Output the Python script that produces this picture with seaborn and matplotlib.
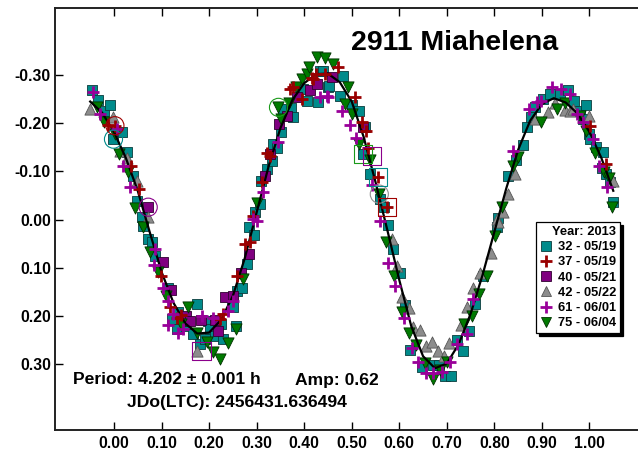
import matplotlib
matplotlib.use("Agg")
import matplotlib.pyplot as plt
from matplotlib.lines import Line2D
import seaborn as sns
import pandas as pd

plt.rcParams['font.family'] = ['Liberation Sans', 'DejaVu Sans']
plt.rcParams['font.weight'] = 'bold'

# ---------------- data ----------------
fit_phase = [-0.050, -0.025, 0.000, 0.025, 0.050, 0.075, 0.100, 0.125, 0.150, 0.175,
             0.200, 0.225, 0.250, 0.275, 0.300, 0.325, 0.350, 0.375, 0.400, 0.425,
             0.450, 0.475, 0.500, 0.525, 0.550, 0.575, 0.600, 0.625, 0.650, 0.675,
             0.700, 0.725, 0.750, 0.775, 0.800, 0.825, 0.850, 0.875, 0.900, 0.925,
             0.950, 0.975, 1.000, 1.025, 1.050]
fit_mag = [-0.245, -0.222, -0.182, -0.128, -0.060, 0.025, 0.108, 0.172, 0.215, 0.236,
           0.234, 0.208, 0.158, 0.080, -0.015, -0.110, -0.190, -0.248, -0.283, -0.302,
           -0.303, -0.285, -0.245, -0.172, -0.078, 0.022, 0.125, 0.220, 0.283, 0.308,
           0.298, 0.258, 0.195, 0.115, 0.025, -0.065, -0.145, -0.205, -0.240, -0.252,
           -0.243, -0.220, -0.182, -0.128, -0.060]

s32_phase = [-0.046, -0.034, -0.022, -0.008, 0.016, -0.001, 0.027, 0.039, 0.048, 0.058,
             0.062, 0.072, 0.079, 0.086, 0.114, 0.121, 0.132, 0.135, 0.151, 0.167,
             0.175, 0.181, 0.191, 0.198, 0.202, 0.212, 0.226, 0.230, 0.248, 0.251,
             0.257, 0.258, 0.269, 0.279, 0.283, 0.295, 0.296, 0.307, 0.309, 0.321,
             0.332, 0.334, 0.343, 0.352, 0.356, 0.372, 0.377, 0.398, 0.405, 0.430,
             0.433, 0.440, 0.451, 0.453, 0.475, 0.482, 0.500, 0.516, 0.528, 0.524,
             0.538, 0.560, 0.567, 0.577, 0.587, 0.601, 0.612, 0.622, 0.647, 0.671,
             0.684, 0.696, 0.708, 0.722, 0.733, 0.747, 0.759, 0.777, 0.805, 0.808,
             0.829, 0.845, 0.861, 0.868, 0.878, 0.885, 0.903, 0.917, 0.938, 0.955,
             0.967, 0.980, 0.993, 0.987, 0.998, 1.001, 1.013, 1.028, 1.026, 1.035,
             1.043, 1.049]
s32_mag = [-0.270, -0.248, -0.226, -0.238, -0.181, -0.167, -0.140, -0.091, -0.039, -0.005,
           0.012, 0.039, 0.047, 0.075, 0.142, 0.206, 0.227, 0.191, 0.220, 0.237,
           0.175, 0.258, 0.248, 0.209, 0.227, 0.241, 0.216, 0.248, 0.165, 0.182,
           0.220, 0.147, 0.142, 0.092, 0.016, 0.032, -0.015, -0.033, -0.081, -0.105,
           -0.122, -0.157, -0.149, -0.181, -0.230, -0.232, -0.212, -0.271, -0.247, -0.244,
           -0.309, -0.309, -0.275, -0.278, -0.257, -0.297, -0.237, -0.226, -0.192, -0.136,
           -0.095, -0.043, -0.026, 0.010, 0.061, 0.111, 0.177, 0.270, 0.306, 0.301,
           0.301, 0.324, 0.325, 0.249, 0.272, 0.230, 0.175, 0.116, 0.016, -0.003,
           -0.091, -0.124, -0.154, -0.192, -0.212, -0.233, -0.250, -0.261, -0.261, -0.268,
           -0.247, -0.226, -0.238, -0.209, -0.178, -0.167, -0.150, -0.140, -0.107, -0.095,
           -0.078, -0.036]

s37_phase = [0.002, -0.012, 0.035, 0.053, 0.099, 0.118, 0.133, 0.142, 0.223, 0.230,
             0.258, 0.276, 0.286, 0.293, 0.311, 0.322, 0.328, 0.370, 0.376, 0.395,
             0.416, 0.419, 0.425, 0.444, 0.472, 0.507, 0.521, 0.531, 0.535, 0.556,
             0.574, 1.002, 1.035]
s37_mag = [-0.195, -0.197, -0.112, -0.064, 0.117, 0.182, 0.203, 0.198, 0.206, 0.196,
           0.117, 0.050, 0.047, -0.008, -0.078, -0.138, -0.133, -0.271, -0.275, -0.250,
           -0.294, -0.292, -0.302, -0.302, -0.316, -0.254, -0.202, -0.185, -0.149, -0.089,
           -0.027, -0.195, -0.116]

s40_phase = [0.072, 0.104, 0.119, 0.151, 0.160, 0.184, 0.212, 0.219, 0.233, 0.251,
             0.267, 0.285, 0.318, 0.329, 0.348, 0.364, 0.384, 0.412, 0.427, 0.458,
             0.524]
s40_mag = [-0.026, 0.088, 0.145, 0.200, 0.210, 0.207, 0.207, 0.230, 0.161, 0.159,
           0.111, 0.071, -0.091, -0.136, -0.199, -0.216, -0.254, -0.268, -0.282, -0.295,
           -0.193]

s42_phase = [-0.050, -0.001, 0.013, 0.027, 0.049, 0.072, 0.174, 0.584, 0.596, 0.605,
             0.621, 0.629, 0.643, 0.657, 0.668, 0.682, 0.694, 0.705, 0.729, 0.743,
             0.754, 0.770, 0.792, 0.806, 0.808, 0.818, 0.829, 0.843, 0.885, 0.913,
             0.927, 0.949, 0.959, 0.965, 1.000, 1.049]
s42_mag = [-0.230, -0.214, -0.143, -0.129, -0.081, -0.005, 0.272, 0.040, 0.095, 0.161,
           0.184, 0.223, 0.228, 0.261, 0.253, 0.272, 0.282, 0.256, 0.218, 0.182,
           0.142, 0.111, 0.068, -0.001, 0.005, -0.015, -0.053, -0.095, -0.209, -0.223,
           -0.242, -0.228, -0.226, -0.230, -0.216, -0.081]

s61_phase = [-0.044, -0.029, 0.006, 0.018, 0.034, 0.086, 0.084, 0.104, 0.114, 0.125,
             0.114, 0.135, 0.146, 0.186, 0.209, 0.240, 0.251, 0.293, 0.300, 0.314,
             0.346, 0.433, 0.447, 0.451, 0.479, 0.496, 0.510, 0.542, 0.560, 0.577,
             0.591, 0.610, 0.626, 0.640, 0.657, 0.671, 0.689, 0.707, 0.721, 0.742,
             0.754, 0.840, 0.873, 0.889, 0.899, 0.922, 0.941, 0.959, 0.973, 0.987,
             1.008, 1.019, 1.036]
s61_mag = [-0.264, -0.219, -0.188, -0.112, -0.067, 0.061, 0.094, 0.142, 0.168, 0.196,
           0.218, 0.234, 0.227, 0.200, 0.203, 0.189, 0.168, -0.001, 0.002, -0.057,
           -0.161, -0.254, -0.257, -0.254, -0.225, -0.197, -0.170, -0.071, 0.002, 0.090,
           0.138, 0.203, 0.267, 0.296, 0.317, 0.317, 0.315, 0.296, 0.258, 0.237,
           0.165, -0.143, -0.230, -0.245, -0.247, -0.275, -0.271, -0.261, -0.219, -0.203,
           -0.167, -0.111, -0.067]

s75_phase = [-0.036, -0.021, 0.002, 0.011, 0.030, 0.044, 0.062, 0.076, 0.093, 0.109,
             0.141, 0.156, 0.174, 0.195, 0.209, 0.224, 0.240, 0.257, 0.272, 0.301,
             0.346, 0.352, 0.369, 0.383, 0.395, 0.405, 0.411, 0.426, 0.444, 0.460,
             0.486, 0.493, 0.500, 0.516, 0.538, 0.558, 0.572, 0.589, 0.605, 0.621,
             0.636, 0.654, 0.670, 0.686, 0.700, 0.736, 0.752, 0.768, 0.785, 0.801,
             0.817, 0.840, 0.850, 0.899, 0.932, 0.949, 0.981, 0.993, 1.011, 1.030,
             1.042, 1.047]
s75_mag = [-0.233, -0.202, -0.178, -0.136, -0.098, -0.024, 0.016, 0.066, 0.109, 0.158,
           0.216, 0.182, 0.234, 0.254, 0.274, 0.289, 0.256, 0.226, 0.123, -0.035,
           -0.233, -0.209, -0.241, -0.276, -0.292, -0.302, -0.317, -0.338, -0.335, -0.323,
           -0.239, -0.275, -0.219, -0.157, -0.124, -0.053, 0.047, 0.117, 0.192, 0.235,
           0.260, 0.298, 0.330, 0.311, 0.296, 0.216, 0.199, 0.154, 0.117, 0.033,
           -0.026, -0.112, -0.131, -0.202, -0.230, -0.242, -0.215, -0.185, -0.138, -0.098,
           -0.086, -0.026]

ring_phase = [-0.001, 0.002, 0.072, 0.346, 0.558]
ring_mag = [-0.167, -0.195, -0.026, -0.233, -0.053]
ring_color = ['#008b8b', '#a00000', '#8b008b', '#1a9a1a', '#909090']
box_phase = [0.184, 0.524, 0.542, 0.556, 0.574]
box_mag = [0.272, -0.136, -0.133, -0.089, -0.027]
box_color = ['#8b008b', '#1a9a1a', '#8b008b', '#008b8b', '#a00000']

session_labels = ['32 - 05/19', '37 - 05/19', '40 - 05/21', '42 - 05/22', '61 - 06/01', '75 - 06/04']
x_ticks = [0.0, 0.1, 0.2, 0.3, 0.4, 0.5, 0.6, 0.7, 0.8, 0.9, 1.0]
y_ticks = [-0.30, -0.20, -0.10, 0.00, 0.10, 0.20, 0.30]

# ---------------- figure ----------------
fig = plt.figure(figsize=(6.38, 4.54), dpi=100)
ax = fig.add_axes([55 / 638, 24 / 454, 583 / 638, 422 / 454])

c_teal, c_red, c_purp, c_gray, c_mag, c_green = '#008b8b', '#990000', '#800080', '#8c8c8c', '#990099', '#007a00'

sns.scatterplot(x=s32_phase, y=s32_mag, marker='s', s=60, color=c_teal, edgecolor='#0a3c3c', linewidth=0.6, ax=ax, zorder=3)
sns.scatterplot(x=s40_phase, y=s40_mag, marker='s', s=60, color=c_purp, edgecolor='#300030', linewidth=0.6, ax=ax, zorder=3)
sns.scatterplot(x=s42_phase, y=s42_mag, marker='^', s=65, color=c_gray, edgecolor='#555555', linewidth=0.6, ax=ax, zorder=3)
sns.scatterplot(x=s75_phase, y=s75_mag, marker='v', s=65, color=c_green, edgecolor='#003000', linewidth=0.6, ax=ax, zorder=3)
sns.scatterplot(x=s37_phase, y=s37_mag, marker='+', s=85, color=c_red, linewidth=2.0, ax=ax, zorder=4)
sns.scatterplot(x=s61_phase, y=s61_mag, marker='+', s=85, color=c_mag, linewidth=2.0, ax=ax, zorder=4)

sns.scatterplot(x=ring_phase, y=ring_mag, marker='o', s=170, facecolor='none', edgecolor=ring_color, linewidth=0.8, ax=ax, zorder=5)
sns.scatterplot(x=box_phase, y=box_mag, marker='s', s=170, facecolor='none', edgecolor=box_color, linewidth=0.8, ax=ax, zorder=5)

sns.lineplot(x=fit_phase, y=fit_mag, color='black', linewidth=1.6, ax=ax, zorder=3.5, sort=False)

ax.set_xlim(-0.124, 1.102)
ax.set_ylim(0.436, -0.439)
ax.set_xticks(x_ticks)
ax.set_xticklabels([f'{v:.2f}' for v in x_ticks])
ax.set_yticks(y_ticks)
ax.set_yticklabels([f'{v:.2f}' for v in y_ticks])
ax.tick_params(axis='both', direction='in', length=6, width=1.0, top=True, right=False,
               labelsize=11.3, colors='black')
ax.tick_params(axis='y', pad=3)
ax.tick_params(axis='x', pad=4.5)
for sp in ['left', 'top', 'bottom']:
    ax.spines[sp].set_linewidth(1.4)
    ax.spines[sp].set_color('#222222')
ax.spines['right'].set_visible(False)
ax.set_xlabel('')
ax.set_ylabel('')

# texts
ax.text((351 - 55) / 583, (430 - 43) / 422, '2911 Miahelena', transform=ax.transAxes, fontsize=20.5,
        fontweight='bold', ha='left', va='center')
fig.text(73 / 638, 1 - 380 / 454, 'Period: 4.202 \u00b1 0.001 h', fontsize=12.6,
         fontweight='bold', ha='left', va='center')
fig.text(295 / 638, 1 - 380 / 454, 'Amp: 0.62', fontsize=12.6, fontweight='bold',
         ha='left', va='center')
fig.text(127 / 638, 1 - 402 / 454, 'JDo(LTC): 2456431.636494', fontsize=12.6,
         fontweight='bold', ha='left', va='center')

# legend
handles = [
    Line2D([], [], marker='s', ls='none', markersize=6.5, markerfacecolor=c_teal, markeredgecolor='#0a3c3c', markeredgewidth=0.6),
    Line2D([], [], marker='+', ls='none', markersize=9, color=c_red, markeredgewidth=2),
    Line2D([], [], marker='s', ls='none', markersize=6.5, markerfacecolor=c_purp, markeredgecolor='#300030', markeredgewidth=0.6),
    Line2D([], [], marker='^', ls='none', markersize=7, markerfacecolor=c_gray, markeredgecolor='#555555', markeredgewidth=0.6),
    Line2D([], [], marker='+', ls='none', markersize=9, color=c_mag, markeredgewidth=2),
    Line2D([], [], marker='v', ls='none', markersize=7, markerfacecolor=c_green, markeredgecolor='#003000', markeredgewidth=0.6),
]
leg = ax.legend(handles, session_labels, title='Year: 2013', loc='upper left',
                bbox_to_anchor=((536 - 55) / 583, (430 - 222) / 422), borderaxespad=0,
                frameon=True, fancybox=False, shadow={'color': 'black', 'alpha': 1},
                edgecolor='black', framealpha=1, borderpad=0.3, handlelength=0.9,
                handletextpad=0.5, labelspacing=0.25, alignment='right',
                prop={'weight': 'bold', 'size': 9.3},
                title_fontproperties={'weight': 'bold', 'size': 9.3})
leg.get_frame().set_linewidth(0.9)
leg.set_zorder(10)

fig.savefig('out.png', dpi=100)
